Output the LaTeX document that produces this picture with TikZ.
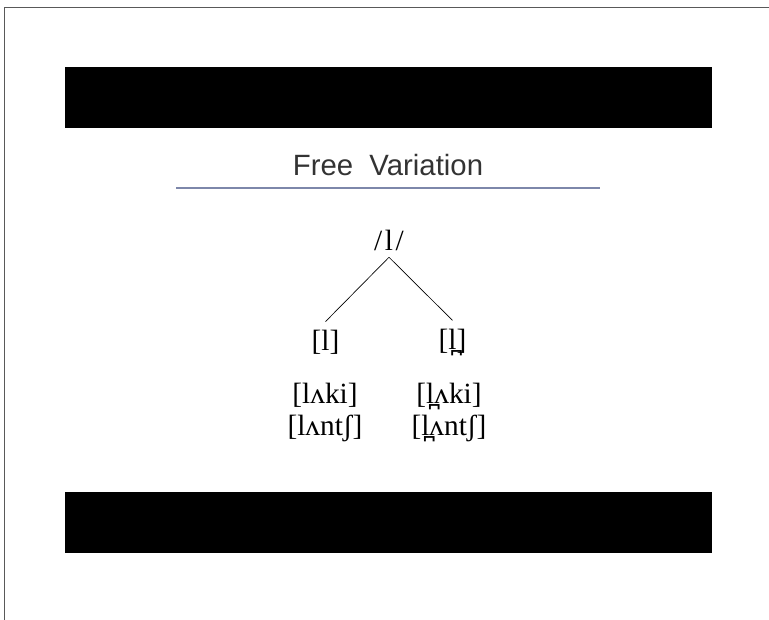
\documentclass[tikz,border=0pt]{standalone}
\usepackage{fontspec}
\setmainfont{Liberation Serif}
\setsansfont{Liberation Sans}
\usetikzlibrary{positioning}
\definecolor{rulecolor}{RGB}{125,135,170}
\tikzset{
    barnode/.style={
        rectangle,
        fill=black, % 黑色横条
        minimum width=485.25pt,
        minimum height=45.75pt,
        inner sep=0
    },
    ipanode/.style={
        inner sep=1pt,
        font=\fontsize{22pt}{25pt}\selectfont
    },
    wordnode/.style={
        inner sep=1pt,
        align=center,
        font=\fontsize{22pt}{24pt}\selectfont
    }
}
\begin{document}
\begin{tikzpicture}[x=0.75pt,y=-0.75pt]
    \useasboundingbox (0,0) rectangle (769,620);
    % 边框
    \draw[gray!70!black, line width=0.6pt] (4,620) -- (4,7) -- (769,7);
    % 黑色横条
    \node[barnode] (topbar) at (388.5,97.5) {};
    \node[barnode] (bottombar) at (388.5,522.5) {};
    % 标题
    \node[font=\sffamily\fontsize{22pt}{24pt}\selectfont, text=black!80] (title) at (388,165) {Free\ \ Variation};
    \coordinate (ruleL) at (176,188);
    \coordinate (ruleR) at (600,188);
    \draw[rulecolor, line width=0.8pt] (ruleL) -- (ruleR);
    % 音位树
    \begin{scope}[
                level distance=102*0.75pt,
                level 1/.style={sibling distance=127*0.75pt},
                edge from parent/.style={draw, line width=0.5pt},
                edge from parent path={([yshift=-4pt]\tikzparentnode.south) -- ([yshift=5pt]\tikzchildnode.north)},
                every node/.style={ipanode}
            ]
        \node (phon) at (389,240) {/\kern2pt l\kern2pt/}
            child { node (allo1) {[l]} }
            child { node (allo2) {[l̪]} };
    \end{scope}
    % 例词
    \node[wordnode] (words1) at (325,412) {[lʌki]\\{}[lʌntʃ]};
    \node[wordnode] (words2) at (449,412) {[l̪ʌki]\\{}[l̪ʌntʃ]};
\end{tikzpicture}
\end{document}
